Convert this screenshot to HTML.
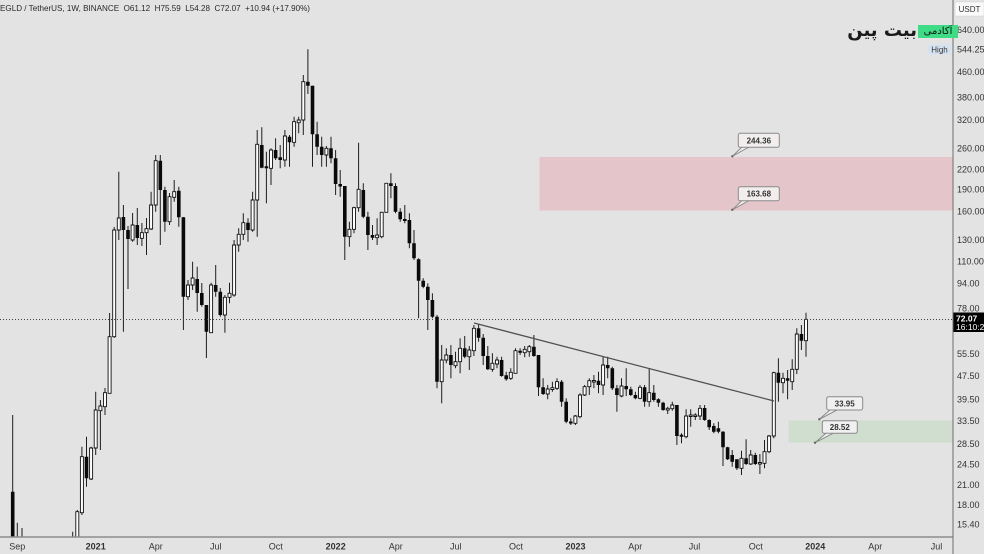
<!DOCTYPE html>
<html><head><meta charset="utf-8">
<style>
html,body{margin:0;padding:0;background:#e3e3e3;}
#wrap{position:relative;width:984px;height:554px;overflow:hidden;background:#e3e3e3;font-family:"Liberation Sans",Arial,sans-serif;}
svg{position:absolute;left:0;top:0;}
.logo{position:absolute;left:846px;top:18px;width:71px;height:26px;direction:rtl;text-align:right;font-family:"DejaVu Sans",sans-serif;font-weight:bold;font-size:18px;line-height:26px;color:#1a1a1a;white-space:nowrap;}
.badge{position:absolute;left:918px;top:25px;width:40px;height:13px;background:#3fdc86;direction:rtl;text-align:center;font-family:"DejaVu Sans",sans-serif;font-size:10px;line-height:13px;color:#111;white-space:nowrap;overflow:hidden;}
</style></head><body>
<div id="wrap">
<svg width="984" height="554" viewBox="0 0 984 554" xmlns="http://www.w3.org/2000/svg">
<defs><clipPath id="pc"><rect x="0" y="0" width="953" height="537"/></clipPath></defs>
<rect x="0" y="0" width="984" height="554" fill="#e3e3e3"/>
<rect x="539.5" y="157" width="413.5" height="53.5" fill="#e4c6ca"/>
<rect x="788.5" y="420.5" width="164.5" height="22" fill="#cfdecf"/>
<g clip-path="url(#pc)">
<path fill="none" stroke="#1e1e1e" stroke-width="1" d="M12.7 415V560M17.3 522.7V560M22 528V560M72.7 531.7V560
M77.3 510V545M81.9 446.7V515M86.5 436.7V486.7M91.1 446.7V480M95.7 391.7V455M100.4 400V450M105 388V415M109.6 313V393.3M114.2 227V338M118.8 171.7V240M123.4 205V331.7M128 226V289M132.6 213V241.7M137.3 208V245M141.9 223V246M146.5 218V255M151.1 191.7V230M155.7 155V211.7M160.3 155V245M164.9 186.7V231.7M169.5 193V225M174.2 180V201.7M178.8 186.7V226.7M183.4 217V330M188 280V300M192.6 261.7V290M197.2 266.7V311.7M201.8 283V306.7M206.4 305V358M211.1 282.7V333M215.7 265V296.7M220.3 288V316.7M224.9 295V332.7M229.5 282.7V303.3M234.1 240V296.7M238.7 228.3V251.7M243.3 213.3V240M248 218.3V241.7M252.6 191.7V231.7M257.2 130V236.7M261.8 127.3V168.3M266.4 151.7V203.3M271 148.3V185M275.6 138.3V160M280.2 145V168.3M284.9 130V166.7M289.5 135V166.7M294.1 116.7V146.7M298.7 116.7V133.3M303.3 75V135M307.9 49.3V94M312.5 85.7V166.7M317.1 121.7V155M321.7 136.7V166.7M326.4 146V166.7M331 136.7V163.3M335.6 150V195M340.2 170V196.7M344.8 186V260M349.4 221.7V246.7M354 206.7V233.3M358.6 142.7V211.7M363.3 183.3V218.3M367.9 211.7V250M372.5 225V240M377.1 218.3V245M381.7 211.7V238.3M386.3 183.3V212.3M390.9 173.3V198.3M395.5 183.3V213.3M400.2 208.3V221.7M404.8 205V223.3M409.4 213.3V248.3M414 230V260M418.6 258.3V318.3M423.2 278.3V288.3M427.8 283.3V330M432.4 293.3V318.3M437 315V388.3M441.7 345V403.3M446.3 348.3V363.3M450.9 345V378.3M455.5 351.7V368.3M460.1 338.3V373.3M464.7 336V358.3M469.3 346V370M473.9 325V356M478.6 324V341.7M483.2 334V365M487.8 346V370M492.4 353.3V371.7M497 356.7V368.3M501.6 356.7V376.7M506.2 371.7V380.7M510.8 368.3V380M515.5 348.3V373.3M520.1 348.3V355M524.7 346V357.3M529.3 345V356.7M533.9 335V356.7M538.5 355V396M543.1 378.3V395M547.7 385V399.3M552.4 381.7V391.7M557 378.3V390M561.6 380V406.7M566.2 398.3V423.3M570.8 418.3V425M575.4 415V425M580 393.3V418.3M584.6 385V396M589.3 378.3V395M593.9 375V388.3M598.5 371.7V393.3M603.1 356.7V395M607.7 356.7V378.3M612.3 366.7V390M616.9 385V411.7M621.5 378.3V397.3M626.2 368.3V396M630.8 386.7V396M635.4 391.7V399.3M640 385V399.3M644.6 385V406.7M649.2 368.3V406.7M653.8 385V401.7M658.4 398.3V406.7M663.1 401.7V410.7M667.7 406.7V414M672.3 401.7V410.7M676.9 405V445M681.5 433.3V443.3M686.1 409.3V438.3M690.7 409.3V426.7M695.3 413.3V420M700 405V420M704.6 405V420.7M709.2 419.3V430M713.8 423.3V433.3M718.4 421.7V433.3M723 431V466M727.6 446.7V460M732.2 450V466.7M736.9 459.3V470M741.5 450.7V475M746.1 439.3V465M750.7 450V465M755.3 452.7V465M759.9 454V474M764.5 440V468.3M769.1 435V453.3M773.8 371.7V438.3M778.4 358.3V401.7M783 372.7V393.3M787.6 370V399.3M792.2 359.3V390M796.8 328.3V374M801.4 325V350M806 312.7V356.7"/>
<path fill="#0a0a0a" d="M10.9 491.7h3.6V560h-3.6zM84.7 456.7h3.6V478.3h-3.6zM121.6 217h3.6V230h-3.6zM126.2 230h3.6V239h-3.6zM135.5 225h3.6V238h-3.6zM158.5 160.7h3.6V190h-3.6zM163.1 190h3.6V221.7h-3.6zM177 190.7h3.6V217.3h-3.6zM181.6 217.3h3.6V296.7h-3.6zM195.4 279h3.6V293h-3.6zM200 293h3.6V305h-3.6zM204.6 305h3.6V331.7h-3.6zM213.9 285h3.6V291.7h-3.6zM218.5 291.7h3.6V315h-3.6zM246.2 222.7h3.6V230h-3.6zM260 145h3.6V167.7h-3.6zM264.6 166.2h3.6V168.2h-3.6zM273.8 150h3.6V158.3h-3.6zM278.4 157.3h3.6V160h-3.6zM287.7 136.7h3.6V142.3h-3.6zM306.1 81.7h3.6V85.7h-3.6zM310.7 85.7h3.6V134.3h-3.6zM315.3 134.3h3.6V146.7h-3.6zM319.9 146.7h3.6V155h-3.6zM329.2 148.3h3.6V158.3h-3.6zM333.8 158.3h3.6V184h-3.6zM338.4 184h3.6V186.5h-3.6zM343 186h3.6V236.7h-3.6zM361.5 190h3.6V216.7h-3.6zM366.1 216.7h3.6V235h-3.6zM370.7 235h3.6V237.7h-3.6zM389.1 183.3h3.6V186h-3.6zM393.7 186h3.6V211.7h-3.6zM398.4 211.7h3.6V219.3h-3.6zM403 219h3.6V221h-3.6zM407.6 220h3.6V243.3h-3.6zM412.2 243.3h3.6V258.3h-3.6zM416.8 259.3h3.6V280.7h-3.6zM421.4 280.7h3.6V286.7h-3.6zM426 286.7h3.6V300h-3.6zM430.6 300h3.6V316.7h-3.6zM435.2 316.7h3.6V381.7h-3.6zM449.1 355h3.6V365h-3.6zM462.9 348.3h3.6V356.7h-3.6zM476.8 328.3h3.6V337.7h-3.6zM481.4 337.7h3.6V356h-3.6zM486 356h3.6V369.3h-3.6zM499.8 360h3.6V376h-3.6zM504.4 375.3h3.6V379.3h-3.6zM518.3 350.7h3.6V352.7h-3.6zM532.1 346.7h3.6V356h-3.6zM536.7 355h3.6V387.3h-3.6zM541.3 387.3h3.6V394h-3.6zM559.8 381.7h3.6V401.7h-3.6zM564.4 401.7h3.6V421.7h-3.6zM569 421.5h3.6V423.5h-3.6zM596.7 380.7h3.6V385h-3.6zM605.9 365h3.6V368.3h-3.6zM610.5 368.3h3.6V388.3h-3.6zM615.1 388.3h3.6V395h-3.6zM624.4 386h3.6V389.3h-3.6zM629 389.3h3.6V395h-3.6zM633.6 395h3.6V398.3h-3.6zM642.8 387.3h3.6V401.7h-3.6zM652 392.7h3.6V400h-3.6zM656.6 399.3h3.6V402.7h-3.6zM661.3 402.7h3.6V410h-3.6zM675.1 405h3.6V436h-3.6zM679.7 434.8h3.6V436.8h-3.6zM702.8 408h3.6V420h-3.6zM707.4 420h3.6V427.3h-3.6zM712 426h3.6V431.7h-3.6zM716.6 428.3h3.6V431.7h-3.6zM721.2 431.7h3.6V447.3h-3.6zM725.8 447.3h3.6V459.3h-3.6zM730.4 455h3.6V461.7h-3.6zM735.1 459.3h3.6V468.3h-3.6zM744.3 458.3h3.6V464h-3.6zM753.5 455h3.6V464h-3.6zM776.6 372.7h3.6V382.7h-3.6zM785.8 378.3h3.6V380.7h-3.6zM799.6 334h3.6V340.7h-3.6z"/>
<path fill="#ffffff" stroke="#111" stroke-width="0.9" d="M75.8 511.7h3V545h-3zM80.4 456.7h3V512.7h-3zM89.6 448h3V479h-3zM94.2 410h3V448h-3zM98.9 406h3V410.7h-3zM103.5 392.7h3V406.7h-3zM108.1 336.7h3V393.3h-3zM112.7 230h3V336.7h-3zM117.3 218h3V230h-3zM131.1 225h3V240h-3zM140.4 232.7h3V238.3h-3zM145 228.7h3V232.7h-3zM149.6 205h3V229h-3zM154.2 160.7h3V205h-3zM168 196.7h3V221.7h-3zM172.7 191.7h3V197.3h-3zM186.5 285h3V296.7h-3zM191.1 278h3V285h-3zM209.6 285h3V332.7h-3zM223.4 297.3h3V315h-3zM228 293.3h3V297.3h-3zM232.6 245h3V295h-3zM237.2 234.3h3V245h-3zM241.8 222.7h3V234.3h-3zM251.1 200h3V230h-3zM255.7 144.3h3V200h-3zM269.5 150h3V168.3h-3zM283.4 136h3V160h-3zM292.6 121.7h3V142.3h-3zM297.2 120h3V122.7h-3zM301.8 81.7h3V120h-3zM324.9 148.3h3V155h-3zM347.9 229.3h3V236.7h-3zM352.5 207.7h3V229.3h-3zM357.1 189.3h3V207.7h-3zM375.6 235h3V237.7h-3zM380.2 212.3h3V236.7h-3zM384.8 183.3h3V212.3h-3zM440.2 360h3V381.7h-3zM444.8 355h3V360h-3zM454 361.7h3V365.7h-3zM458.6 348.3h3V361.7h-3zM467.8 350h3V356.7h-3zM472.4 328.3h3V350.7h-3zM490.9 363.3h3V369.3h-3zM495.5 360h3V364h-3zM509.3 372.3h3V378.3h-3zM514 350.7h3V373.3h-3zM523.2 349.3h3V352.7h-3zM527.8 346.7h3V351.7h-3zM546.2 389h3V394h-3zM550.9 387.7h3V389.5h-3zM555.5 381.7h3V388.3h-3zM573.9 416h3V423.3h-3zM578.5 395h3V416.7h-3zM583.1 386.7h3V395h-3zM587.8 380.7h3V386.7h-3zM592.4 380.5h3V382h-3zM601.6 365h3V385h-3zM620 386h3V396h-3zM638.5 387.3h3V398.3h-3zM647.7 392.7h3V401.7h-3zM666.2 408.3h3V410h-3zM670.8 405h3V408.7h-3zM684.6 416h3V436.7h-3zM689.2 415h3V416.5h-3zM693.8 415h3V416.5h-3zM698.5 408.3h3V416h-3zM740 458.3h3V468.3h-3zM749.2 455h3V464h-3zM758.4 462.5h3V464h-3zM763 451.7h3V463.3h-3zM767.6 436h3V451.7h-3zM772.3 372.7h3V436h-3zM781.5 378.3h3V382.7h-3zM790.7 369.3h3V381.7h-3zM795.3 334h3V369.3h-3zM804.5 319.3h3V340.7h-3z"/>
</g>
<line x1="474" y1="323" x2="774" y2="401" stroke="#505050" stroke-width="1.3"/>
<line x1="0" y1="319.5" x2="953" y2="319.5" stroke="#444" stroke-width="1" stroke-dasharray="1,2"/>
<g font-family="Liberation Sans, Arial, sans-serif" font-size="8" font-weight="bold" fill="#333" text-anchor="middle">
<path d="M742 147L732.3 156.3L749 147" fill="#f2eeee" stroke="#8a8a8a" stroke-width="1"/>
<rect x="738.3" y="133.3" width="41" height="14" rx="2" fill="#f2eeee" stroke="#8a8a8a" stroke-width="1"/>
<circle cx="732.3" cy="156.3" r="1.2" fill="#666"/>
<text x="758.8" y="143.3">244.36</text>
<path d="M742 200.5L732.3 209.8L749 200.5" fill="#f2eeee" stroke="#8a8a8a" stroke-width="1"/>
<rect x="738.3" y="186.7" width="41" height="14" rx="2" fill="#f2eeee" stroke="#8a8a8a" stroke-width="1"/>
<circle cx="732.3" cy="209.8" r="1.2" fill="#666"/>
<text x="758.8" y="196.7">163.68</text>
<path d="M830 410L819.3 419.3L837 410" fill="#f0f0f0" stroke="#8a8a8a" stroke-width="1"/>
<rect x="826.7" y="396.7" width="36" height="13.3" rx="2" fill="#f0f0f0" stroke="#8a8a8a" stroke-width="1"/>
<circle cx="819.3" cy="419.3" r="1.2" fill="#666"/>
<text x="844.7" y="406.3">33.95</text>
<path d="M826 433.3L815 442.7L833 433.3" fill="#f0f0f0" stroke="#8a8a8a" stroke-width="1"/>
<rect x="822.3" y="420.7" width="35" height="12.6" rx="2" fill="#f0f0f0" stroke="#8a8a8a" stroke-width="1"/>
<circle cx="815" cy="442.7" r="1.2" fill="#666"/>
<text x="839.8" y="430">28.52</text>
</g>
<line x1="0" y1="537" x2="953" y2="537" stroke="#8c8c8c" stroke-width="1.5"/>
<line x1="953" y1="0" x2="953" y2="554" stroke="#6e6e6e" stroke-width="1"/>
<text x="0" y="11" font-family="Liberation Sans, Arial, sans-serif" font-size="8.5" fill="#2a2a2a" xml:space="preserve" textLength="310" lengthAdjust="spacingAndGlyphs">EGLD / TetherUS, 1W, BINANCE  O61.12  H75.59  L54.28  C72.07  +10.94 (+17.90%)</text>
<g font-family="Liberation Sans, Arial, sans-serif" font-size="9" fill="#333">
<text x="957" y="33">640.00</text>
<text x="957" y="52.5">544.25</text>
<text x="957" y="75">460.00</text>
<text x="957" y="100.5">380.00</text>
<text x="957" y="123">320.00</text>
<text x="957" y="151.5">260.00</text>
<text x="957" y="172.5">220.00</text>
<text x="957" y="192.5">190.00</text>
<text x="957" y="214.5">160.00</text>
<text x="957" y="243">130.00</text>
<text x="957" y="264.5">110.00</text>
<text x="957" y="286.5">94.00</text>
<text x="957" y="311.5">78.00</text>
<text x="957" y="357">55.50</text>
<text x="957" y="379">47.50</text>
<text x="957" y="402.5">39.50</text>
<text x="957" y="424">33.50</text>
<text x="957" y="447">28.50</text>
<text x="957" y="467.5">24.50</text>
<text x="957" y="488">21.00</text>
<text x="957" y="508">18.00</text>
<text x="957" y="527.5">15.40</text>
</g>
<rect x="955" y="2" width="29" height="14" fill="#fafafa" stroke="#d0d0d0" stroke-width="0.5"/>
<text x="969.5" y="12" font-family="Liberation Sans, Arial, sans-serif" font-size="8" fill="#333" text-anchor="middle">USDT</text>
<rect x="928" y="44.5" width="23" height="10" fill="#d5e3f0"/>
<text x="939.5" y="52.3" font-family="Liberation Sans, Arial, sans-serif" font-size="8" fill="#333" text-anchor="middle">High</text>
<rect x="953.5" y="312.5" width="31" height="19.5" fill="#000"/>
<text x="956" y="321.5" font-family="Liberation Sans, Arial, sans-serif" font-size="8.5" font-weight="bold" fill="#fff">72.07</text>
<text x="956" y="330" font-family="Liberation Sans, Arial, sans-serif" font-size="8.5" fill="#fff">16:10:23</text>
<g font-family="Liberation Sans, Arial, sans-serif" font-size="9" fill="#333" text-anchor="middle">
<text x="17.3" y="549.5">Sep</text>
<text x="95.7" y="549.5" font-weight="bold">2021</text>
<text x="155.7" y="549.5">Apr</text>
<text x="215.7" y="549.5">Jul</text>
<text x="275.7" y="549.5">Oct</text>
<text x="335.7" y="549.5" font-weight="bold">2022</text>
<text x="395.7" y="549.5">Apr</text>
<text x="455.7" y="549.5">Jul</text>
<text x="516" y="549.5">Oct</text>
<text x="575.5" y="549.5" font-weight="bold">2023</text>
<text x="635.3" y="549.5">Apr</text>
<text x="694.5" y="549.5">Jul</text>
<text x="755.7" y="549.5">Oct</text>
<text x="815.3" y="549.5" font-weight="bold">2024</text>
<text x="875.3" y="549.5">Apr</text>
<text x="936.5" y="549.5">Jul</text>
</g>
</svg>
<div class="logo">بیت پین</div>
<div class="badge">آکادمی</div>
</div>
</body></html>
